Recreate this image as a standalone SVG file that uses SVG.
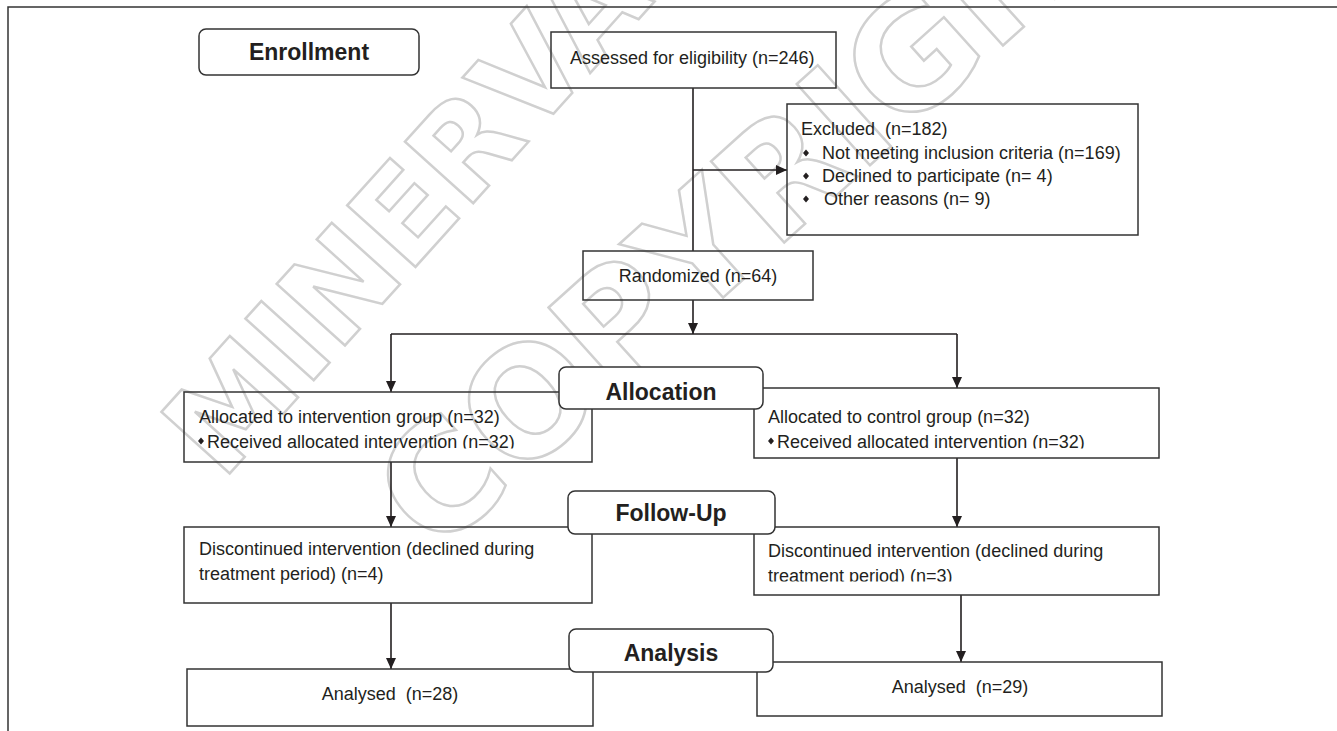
<svg xmlns="http://www.w3.org/2000/svg" width="1337" height="731" viewBox="0 0 1337 731">
<style>
.t{font-family:"Liberation Sans",Arial,sans-serif;font-size:18px;fill:#231f20;white-space:pre}
.b{font-family:"Liberation Sans",Arial,sans-serif;font-size:23px;font-weight:bold;fill:#231f20}
.box{fill:none;stroke:#333;stroke-width:1.5}
.stage{fill:#fff;stroke:#333;stroke-width:1.5}
.c{fill:none;stroke:#231f20;stroke-width:1.6}
.wm{font-family:"DejaVu Sans",sans-serif;font-weight:bold;fill:none;stroke:#d0d0d0;stroke-width:2.5}
.dot{fill:#231f20}
</style>
<defs>
<marker id="ah" markerUnits="userSpaceOnUse" markerWidth="12" markerHeight="12" refX="11" refY="5" orient="auto">
<path d="M0,0 L11,5 L0,10 z" fill="#231f20"/>
</marker>
<clipPath id="clipL"><rect x="0" y="0" width="1337" height="448.5"/></clipPath>
<clipPath id="clipF"><rect x="0" y="0" width="1337" height="581.5"/></clipPath>
<path id="dia" d="M0,-3.5 L3,0 L0,3.5 L-3,0 z"/>
</defs>
<rect width="1337" height="731" fill="#fff"/>
<g id="watermark">
<text class="wm" font-size="126" transform="translate(222,482) rotate(-48)">MINERVA</text>
<text class="wm" font-size="150" transform="translate(435,557) rotate(-42)">COPYRIGHT</text>
</g>
<g id="frame" fill="none" stroke="#333" stroke-width="1.5">
<path d="M8,731 L8,7 L1337,7"/>
</g>
<g id="connectors">
<path class="c" d="M693,88 L693,251"/>
<path class="c" d="M693,170 L787,170" marker-end="url(#ah)"/>
<path class="c" d="M693,300 L693,334" marker-end="url(#ah)"/>
<path class="c" d="M391,334 L957,334"/>
<path class="c" d="M391,334 L391,392" marker-end="url(#ah)"/>
<path class="c" d="M957,334 L957,388" marker-end="url(#ah)"/>
<path class="c" d="M391,462 L391,527" marker-end="url(#ah)"/>
<path class="c" d="M957,458 L957,527" marker-end="url(#ah)"/>
<path class="c" d="M391,603 L391,669" marker-end="url(#ah)"/>
<path class="c" d="M961,595 L961,662" marker-end="url(#ah)"/>
</g>
<g id="enrollment">
<rect class="stage" x="199" y="29" width="220" height="46" rx="7"/>
<text class="b" x="309" y="60" text-anchor="middle">Enrollment</text>
</g>
<g id="assessed">
<rect class="box" x="551" y="32" width="285" height="56"/>
<text class="t" x="570" y="64">Assessed for eligibility (n=246)</text>
</g>
<g id="excluded">
<rect class="box" x="787" y="104" width="351" height="131"/>
<text class="t" x="801" y="135" xml:space="preserve">Excluded  (n=182)</text>
<use href="#dia" x="806" y="153" class="dot"/>
<text class="t" x="822" y="159">Not meeting inclusion criteria (n=169)</text>
<use href="#dia" x="806" y="176" class="dot"/>
<text class="t" x="822" y="182">Declined to participate (n= 4)</text>
<use href="#dia" x="806" y="199" class="dot"/>
<text class="t" x="824" y="205">Other reasons (n= 9)</text>
</g>
<g id="randomized">
<rect class="box" x="583" y="251" width="230" height="49"/>
<text class="t" x="698" y="282" text-anchor="middle">Randomized (n=64)</text>
</g>
<g id="alloc-left">
<rect class="box" x="184" y="392" width="408" height="70"/>
<text class="t" x="199" y="423">Allocated to intervention group (n=32)</text>
<use href="#dia" x="201" y="441" class="dot"/>
<text class="t" x="207" y="448" clip-path="url(#clipL)">Received allocated intervention (n=32)</text>
</g>
<g id="alloc-right">
<rect class="box" x="754" y="388" width="405" height="70"/>
<text class="t" x="768" y="423">Allocated to control group (n=32)</text>
<use href="#dia" x="771" y="441" class="dot"/>
<text class="t" x="777" y="448" clip-path="url(#clipL)">Received allocated intervention (n=32)</text>
</g>
<g id="allocation">
<rect class="stage" x="559" y="367" width="204" height="42" rx="7"/>
<text class="b" x="661" y="400" text-anchor="middle">Allocation</text>
</g>
<g id="follow-left">
<rect class="box" x="184" y="527" width="408" height="76"/>
<text class="t" x="199" y="555">Discontinued intervention (declined during</text>
<text class="t" x="199" y="580">treatment period) (n=4)</text>
</g>
<g id="follow-right">
<rect class="box" x="754" y="527" width="405" height="68"/>
<text class="t" x="768" y="557">Discontinued intervention (declined during</text>
<text class="t" x="768" y="582" clip-path="url(#clipF)">treatment period) (n=3)</text>
</g>
<g id="followup">
<rect class="stage" x="568" y="491" width="207" height="43" rx="7"/>
<text class="b" x="671" y="521" text-anchor="middle">Follow-Up</text>
</g>
<g id="analysed-left">
<rect class="box" x="187" y="669" width="406" height="57"/>
<text class="t" x="390" y="700" text-anchor="middle" xml:space="preserve">Analysed  (n=28)</text>
</g>
<g id="analysed-right">
<rect class="box" x="757" y="662" width="405" height="54"/>
<text class="t" x="960" y="693" text-anchor="middle" xml:space="preserve">Analysed  (n=29)</text>
</g>
<g id="analysis">
<rect class="stage" x="569" y="629" width="204" height="43" rx="7"/>
<text class="b" x="671" y="661" text-anchor="middle">Analysis</text>
</g>
</svg>
